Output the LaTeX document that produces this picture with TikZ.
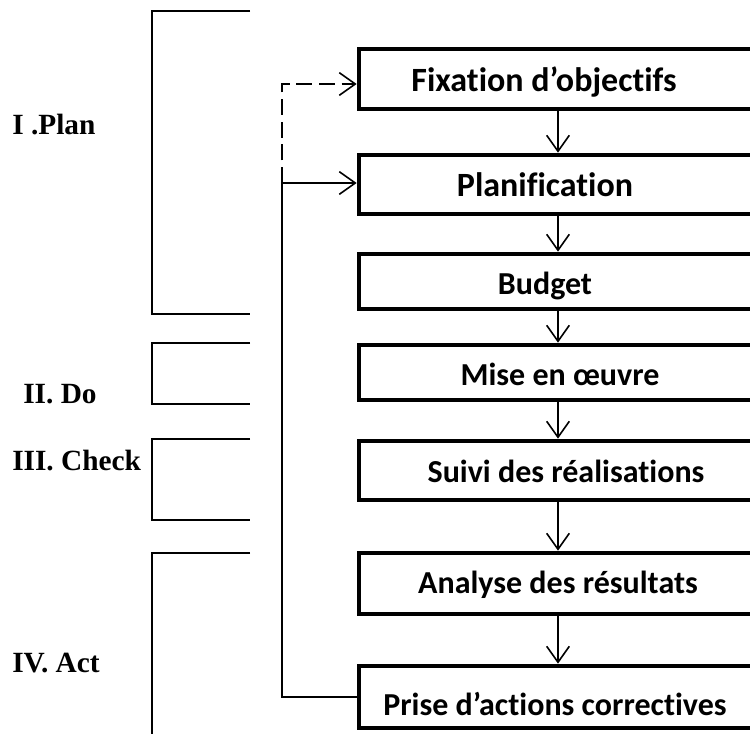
\documentclass[tikz,border=0pt]{standalone}
\usepackage{fontspec}
\setmainfont{Liberation Serif}
\newfontfamily\boxfont[Ligatures=NoCommon]{Carlito}
\usetikzlibrary{arrows.meta}
\begin{document}
\begin{tikzpicture}[x=0.75pt,y=-0.75pt,
  stepbox/.style={draw, line width=3.5pt, minimum width=298.5pt, inner sep=0pt, rectangle},
  boxtxt/.style={anchor=base, inner sep=0pt, font=\boxfont\bfseries\fontsize{24}{28}\selectfont},
  phase/.style={anchor=base west, inner sep=0pt, font=\bfseries\fontsize{22}{26}\selectfont},
  brk/.style={line width=1.1pt},
  conn/.style={line width=1.2pt, -{Straight Barb[length=12pt,width=17pt,line width=1.2pt]}},
  fbline/.style={line width=1.2pt},
  dashline/.style={line width=1.2pt, dash pattern=on 12pt off 5pt}
]
\useasboundingbox (0,0) rectangle (750,734);

% boxes
\node[stepbox, minimum height=45pt]    (fix)  at (558,79)    {};
\node[stepbox, minimum height=44.25pt] (plan) at (558,184.5) {};
\node[stepbox, minimum height=41.25pt] (bud)  at (558,281.5) {};
\node[stepbox, minimum height=41.25pt] (mise) at (558,372.5) {};
\node[stepbox, minimum height=44.25pt] (suivi) at (558,470.5) {};
\node[stepbox, minimum height=45.75pt] (ana)  at (558,583.5) {};
\node[stepbox, minimum height=46.5pt]  (prise) at (558,697)  {};

% box texts
\node[boxtxt, font=\boxfont\bfseries\fontsize{25.5}{28}\selectfont] (tfix)   at (544,92)  {Fixation d’objectifs};
\node[boxtxt, font=\boxfont\bfseries\fontsize{25.5}{28}\selectfont] (tplan)  at (545,197) {Planification};
\node[boxtxt] (tbud)   at (545,295) {Budget};
\node[boxtxt] (tmise)  at (560,385) {Mise en œuvre};
\node[boxtxt] (tsuivi) at (566,482) {Suivi des réalisations};
\node[boxtxt] (tana)   at (558,593) {Analyse des résultats};
\node[boxtxt] (tprise) at (555,715) {Prise d’actions correctives};

% vertical arrows
\draw[conn] (fix.south) -- (plan.north);
\draw[conn] (plan.south) -- (bud.north);
\draw[conn] (bud.south) -- (mise.north);
\draw[conn] (mise.south) -- (suivi.north);
\draw[conn] (suivi.south) -- (ana.north);
\draw[conn] (ana.south) -- (prise.north);

% feedback loop
\coordinate (fbtop) at (282,84);
\coordinate (fbmid) at (282,183);
\coordinate (fbbot) at (282,697);
\draw[fbline] (prise.west) -- (fbbot) -- (fbmid);
\draw[conn] (fbmid) -- (plan.west |- fbmid);
\draw[dashline] (fbmid) -- (fbtop) -- ([xshift=-3pt]fix.west |- fbtop);
\draw[conn] ([xshift=-3pt]fix.west |- fbtop) -- (fix.west |- fbtop);

% brackets
\draw[brk] (250,11) -- (152,11) -- (152,314) -- (250,314);
\draw[brk] (250,343) -- (152,343) -- (152,404) -- (250,404);
\draw[brk] (250,439) -- (152,439) -- (152,520) -- (250,520);
\draw[brk] (250,553) -- (152,553) -- (152,745);

% phase labels
\node[phase] (lplan)  at (12,135) {I .Plan};
\node[phase] (ldo)    at (23,403) {II. Do};
\node[phase] (lcheck) at (12,470) {III. Check};
\node[phase] (lact)   at (12,672) {IV. Act};
\end{tikzpicture}
\end{document}
